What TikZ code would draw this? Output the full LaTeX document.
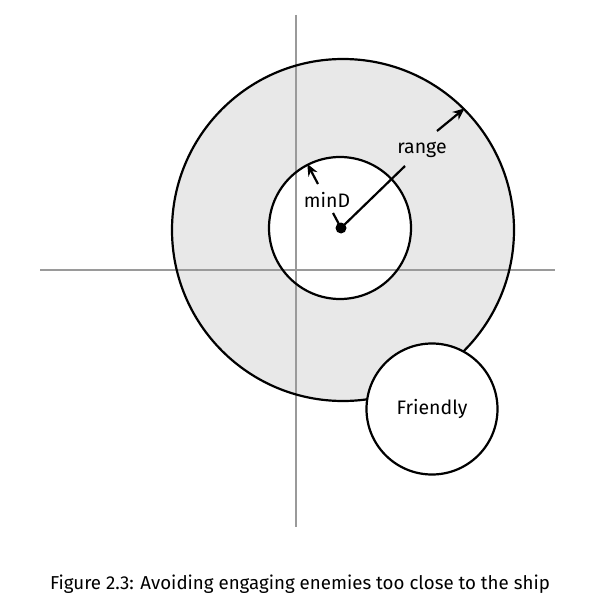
\documentclass[tikz,border=0pt]{standalone}
\usepackage{fontspec}
\setmainfont{Fira Sans}
\usetikzlibrary{arrows.meta}
\definecolor{ringgray}{HTML}{E8E8E8}
\definecolor{axisgray}{HTML}{9A9A9A}
\begin{document}
\begin{tikzpicture}[x=1pt,y=-1pt,
  ring/.style={circle,draw=black,line width=2.2pt,inner sep=0pt},
  axis/.style={draw=axisgray,line width=2.2pt},
  ptr/.style={line width=2.2pt,-{Stealth[length=12pt,width=10pt]}},
  lbl/.style={font=\fontsize{19.5}{22}\selectfont,inner sep=0pt}]
\useasboundingbox (0,0) rectangle (599,615);
% fills
\fill[ringgray] (343,230) circle[radius=171];
\fill[white] (340,228) circle[radius=71];
% axes
\coordinate (vtop) at (296,15);
\coordinate (vbot) at (296,527);
\coordinate (hl) at (40,270);
\coordinate (hr) at (555,270);
\draw[axis] (vtop) -- (vbot);
\draw[axis] (hl) -- (hr);
% circles
\node[ring,minimum size=342pt] (outer) at (343,230) {};
\node[ring,minimum size=142pt] (inner) at (340,228) {};
\node[ring,fill=white,minimum size=131pt,lbl] (friend) at (432,409) {Friendly};
% center
\node[circle,fill=black,minimum size=11pt,inner sep=0pt] (c) at (341,228) {};
% range
\coordinate (r1) at (405,166);
\coordinate (r2) at (437,131);
\draw[line width=2.2pt] (c.center) -- (r1);
\draw[ptr] (r2) -- (outer.45);
\node[lbl] (rangelbl) at (422,150) {range};
% minD
\coordinate (m1) at (333,213);
\coordinate (m2) at (318,184);
\draw[line width=2.2pt] (c.center) -- (m1);
\draw[ptr] (m2) -- (inner.117.7);
\node[lbl] (minDlbl) at (327,200) {minD};
% caption
\node[font=\fontsize{18.7}{22}\selectfont,inner sep=0pt] (cap) at (300,584) {Figure 2.3: Avoiding engaging enemies too close to the ship};
\end{tikzpicture}
\end{document}
